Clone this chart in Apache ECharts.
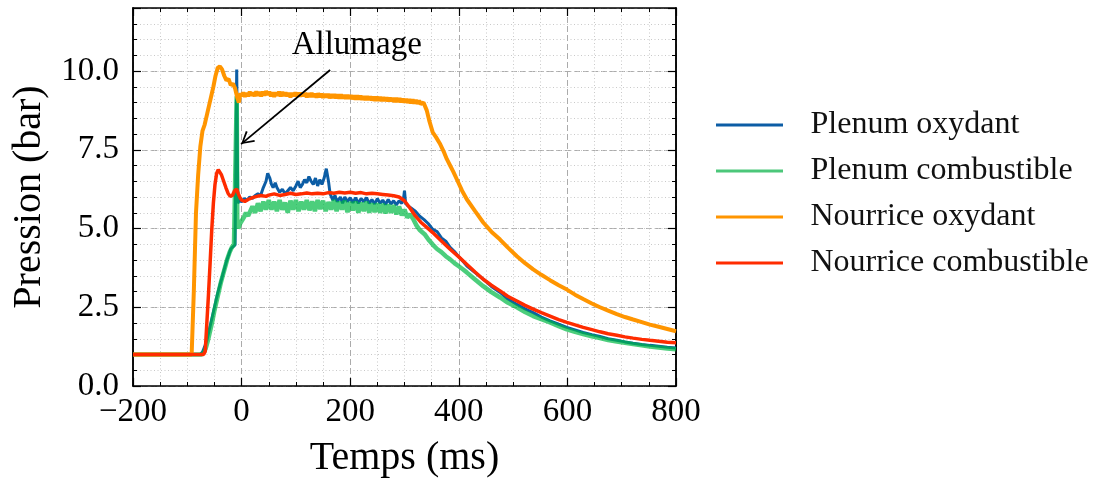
<!DOCTYPE html>
<html>
<head>
<meta charset="utf-8">
<script src="https://cdn.jsdelivr.net/npm/echarts@6/dist/echarts.min.js"></script>
<style>html,body{margin:0;padding:0;background:#fff}#c{width:1118px;height:479px}</style>
</head>
<body>
<div id="c"></div>
<script>
const seriesNames = ['Plenum oxydant', 'Plenum combustible', 'Nourrice oxydant', 'Nourrice combustible'];
const xTicks = [-200, 0, 200, 400, 600, 800];
const yTicks = [0.0, 2.5, 5.0, 7.5, 10.0];
const annotationText = 'Allumage';

// [time (ms), pressure (bar)]
const plenumOxydant = [[-200,1.0],[-76,1.0],[-72,1.08],[-68,1.25],[-64,1.45],[-60,1.75],[-56,2.05],[-52,2.35],[-48,2.65],[-44,2.95],[-40,3.2],[-36,3.45],[-32,3.7],[-28,3.95],[-24,4.15],[-20,4.35],[-16,4.42],[-12,4.48],[-10,4.5],[-9,10.05],[-7,5.8],[-4,5.9],[0,5.85],[5,5.95],[10,5.9],[15,6.0],[20,5.95],[25,6.05],[30,6.1],[35,6.05],[40,6.3],[45,6.5],[48,6.75],[52,6.6],[55,6.4],[58,6.3],[62,6.45],[65,6.3],[70,6.15],[75,6.25],[80,6.1],[85,6.2],[90,6.3],[95,6.2],[100,6.35],[104,6.5],[108,6.3],[112,6.4],[116,6.55],[120,6.45],[124,6.65],[128,6.5],[132,6.4],[136,6.6],[140,6.35],[144,6.55],[148,6.4],[152,6.6],[156,6.9],[160,6.5],[163,6.1],[168,5.9],[172,6.05],[176,5.85],[182,6.0],[186,5.8],[190,6.0],[195,5.85],[200,5.98],[205,5.82],[210,5.98],[215,5.8],[220,5.95],[225,5.85],[230,5.98],[235,5.8],[240,5.92],[245,5.78],[250,5.95],[255,5.8],[260,5.9],[265,5.76],[270,5.92],[275,5.78],[280,5.88],[285,5.75],[290,5.88],[295,5.8],[298,5.92],[300,6.2],[302,5.8],[306,5.72],[312,5.65],[320,5.55],[328,5.39],[336,5.28],[344,5.15],[352,4.97],[360,4.9],[368,4.7],[376,4.6],[384,4.4],[392,4.27],[400,4.1],[408,3.95],[415,3.81],[430,3.6],[445,3.39],[460,3.16],[476,2.97],[490,2.77],[507,2.59],[522,2.45],[537,2.33],[552,2.19],[568,2.07],[584,1.96],[599,1.86],[614,1.78],[629,1.7],[645,1.63],[660,1.57],[675,1.5],[691,1.45],[706,1.4],[721,1.36],[737,1.32],[752,1.29],[768,1.26],[784,1.23],[800,1.21]];

const plenumCombustible = [[-200,1.0],[-74,1.0],[-70,1.05],[-66,1.2],[-62,1.45],[-58,1.75],[-54,2.05],[-50,2.4],[-46,2.7],[-42,3.0],[-38,3.3],[-34,3.55],[-30,3.8],[-26,4.05],[-22,4.25],[-18,4.4],[-14,4.5],[-11,4.55],[-9,9.2],[-8,5.3],[-6,5.0],[-3,5.15],[0,5.2],[4,5.35],[8,5.5],[12,5.4],[15,5.45],[20,5.7],[25,5.5],[30,5.8],[35,5.55],[40,5.85],[45,5.6],[50,5.9],[55,5.6],[60,5.85],[65,5.55],[70,5.9],[75,5.6],[80,5.82],[85,5.5],[90,5.88],[95,5.6],[100,5.9],[105,5.55],[110,5.85],[115,5.6],[120,5.9],[125,5.58],[130,5.86],[135,5.55],[140,5.9],[145,5.62],[150,5.88],[155,5.55],[160,5.84],[165,5.6],[170,5.9],[175,5.55],[180,5.85],[185,5.6],[190,5.88],[195,5.52],[200,5.84],[205,5.58],[210,5.86],[215,5.5],[220,5.82],[225,5.55],[230,5.85],[235,5.5],[240,5.8],[245,5.52],[250,5.8],[255,5.5],[260,5.78],[265,5.48],[270,5.76],[275,5.5],[280,5.74],[285,5.45],[290,5.7],[295,5.42],[300,5.6],[305,5.35],[310,5.45],[316,5.3],[322,5.1],[328,4.95],[337,4.82],[344,4.65],[352,4.49],[360,4.35],[368,4.25],[376,4.12],[384,4.02],[392,3.9],[400,3.8],[408,3.7],[415,3.6],[430,3.38],[445,3.17],[460,2.98],[476,2.81],[490,2.65],[507,2.5],[522,2.35],[537,2.22],[552,2.12],[568,2.02],[584,1.9],[599,1.8],[614,1.72],[629,1.65],[645,1.58],[660,1.52],[675,1.46],[691,1.41],[706,1.37],[721,1.33],[737,1.29],[752,1.25],[768,1.22],[784,1.19],[800,1.17]];

const nourriceOxydant = [[-200,1.0],[-92,1.0],[-88,3.0],[-84,5.5],[-80,6.7],[-76,7.6],[-72,8.1],[-68,8.3],[-64,8.6],[-60,8.9],[-56,9.2],[-52,9.5],[-48,9.85],[-44,10.1],[-40,10.15],[-36,10.05],[-32,9.85],[-28,9.7],[-24,9.75],[-20,9.55],[-16,9.6],[-12,9.45],[-8,9.15],[-5,9.0],[-2,9.3],[0,9.2],[3,9.32],[6,9.18],[9,9.3],[12,9.2],[15,9.34],[18,9.22],[21,9.32],[24,9.2],[27,9.35],[30,9.22],[33,9.33],[36,9.2],[39,9.34],[42,9.22],[45,9.36],[48,9.24],[51,9.34],[54,9.2],[57,9.32],[60,9.18],[63,9.32],[66,9.22],[69,9.34],[72,9.2],[75,9.33],[78,9.21],[81,9.32],[84,9.2],[87,9.3],[90,9.17],[93,9.3],[96,9.2],[99,9.32],[102,9.2],[105,9.31],[108,9.19],[111,9.31],[114,9.2],[117,9.3],[120,9.17],[123,9.29],[126,9.18],[129,9.3],[132,9.18],[135,9.28],[138,9.16],[141,9.29],[144,9.17],[147,9.28],[150,9.15],[153,9.27],[156,9.16],[159,9.27],[162,9.14],[165,9.26],[168,9.15],[171,9.26],[174,9.14],[177,9.25],[180,9.13],[183,9.25],[186,9.13],[189,9.24],[192,9.12],[195,9.24],[198,9.12],[201,9.23],[204,9.11],[207,9.22],[210,9.1],[213,9.22],[216,9.1],[219,9.21],[222,9.09],[225,9.2],[228,9.08],[231,9.2],[234,9.08],[237,9.19],[240,9.07],[243,9.18],[246,9.06],[249,9.18],[252,9.06],[255,9.17],[258,9.05],[261,9.16],[264,9.05],[267,9.16],[270,9.04],[273,9.15],[276,9.04],[279,9.14],[282,9.02],[285,9.14],[288,9.02],[291,9.13],[294,9.01],[297,9.12],[300,9.0],[303,9.11],[306,8.99],[309,9.1],[312,8.98],[315,9.09],[318,8.97],[321,9.08],[324,8.96],[327,9.06],[330,8.95],[335,9.0],[341,8.75],[346,8.4],[352,8.05],[358,7.9],[365,7.7],[372,7.45],[378,7.2],[384,7.0],[390,6.8],[398,6.5],[406,6.2],[415,5.92],[430,5.55],[445,5.19],[460,4.9],[476,4.65],[490,4.4],[507,4.12],[522,3.9],[537,3.7],[552,3.53],[568,3.36],[584,3.2],[599,3.06],[614,2.9],[629,2.76],[645,2.62],[660,2.5],[675,2.39],[691,2.28],[706,2.19],[721,2.11],[737,2.03],[752,1.95],[768,1.88],[784,1.81],[800,1.74]];

const nourriceCombustible = [[-200,1.0],[-70,1.0],[-67,1.1],[-64,2.0],[-61,2.9],[-58,3.9],[-55,4.95],[-52,5.8],[-49,6.4],[-46,6.75],[-43,6.87],[-40,6.82],[-37,6.7],[-33,6.5],[-29,6.3],[-25,6.12],[-21,6.02],[-17,6.05],[-13,6.2],[-9,6.25],[-6,6.1],[-3,5.98],[0,5.9],[6,5.86],[12,5.92],[20,5.98],[28,6.02],[36,6.05],[45,6.02],[50,6.06],[60,6.1],[70,6.05],[80,6.08],[90,6.12],[100,6.08],[110,6.1],[120,6.13],[130,6.1],[140,6.12],[150,6.1],[160,6.14],[170,6.12],[180,6.15],[190,6.13],[200,6.15],[210,6.12],[220,6.14],[230,6.1],[240,6.12],[250,6.1],[260,6.08],[270,6.06],[280,6.04],[290,6.0],[300,5.88],[310,5.65],[320,5.4],[330,5.2],[340,5.05],[352,4.87],[368,4.6],[384,4.34],[400,4.1],[415,3.86],[430,3.62],[445,3.39],[460,3.2],[476,3.02],[490,2.85],[507,2.7],[522,2.56],[537,2.44],[552,2.33],[568,2.22],[584,2.11],[599,2.02],[614,1.94],[629,1.86],[645,1.79],[660,1.72],[675,1.66],[691,1.61],[706,1.56],[721,1.52],[737,1.48],[752,1.45],[768,1.42],[784,1.39],[800,1.37]];

// annotation anchor points in data coordinates
const arrowStart = [163, 10.03];
const arrowTip = [-1, 7.68];
const labelPos = [212, 10.83];

const FONT = "'Liberation Serif', 'DejaVu Serif', serif";
const BLACK = '#000';
const chevron = 'path://M6,-11 L6,-11 M0,10 L6,0 L12,10 L10.6,10.8 L6,2.6 L1.4,10.8 Z';
const legendIcon = 'path://M0,0 L67,0 L67,3 L0,3 Z';

const chart = echarts.init(document.getElementById('c'), null, {renderer: 'canvas'});

function axisLineStyle() { return {show: true, onZero: false, lineStyle: {color: BLACK, width: 1.5}}; }

const majorSplit = {show: true, lineStyle: {color: '#ababab', width: 1, type: [6, 3]}};
const minorSplit = {show: true, lineStyle: {color: '#c9c9c9', width: 1, type: [1, 2.5]}};

const option = {
  animation: false,
  backgroundColor: '#fff',
  grid: {left: 133, right: 442, top: 8, bottom: 93, containLabel: false, outerBoundsMode: 'none'},
  legend: {
    orient: 'vertical', left: 716, top: 109, padding: 0,
    data: seriesNames.map(n => ({name: n, icon: legendIcon})),
    itemWidth: 68, itemHeight: 3, itemGap: 14,
    textStyle: {fontFamily: FONT, fontSize: 32, color: '#111', lineHeight: 32, padding: [0, 0, 0, 22]}
  },
  xAxis: [
    {
      type: 'value', min: -200, max: 800, interval: 200, position: 'bottom',
      name: 'Temps (ms)', nameLocation: 'middle', nameGap: 52,
      nameTextStyle: {fontFamily: FONT, fontSize: 40, color: BLACK},
      axisLine: axisLineStyle(),
      axisTick: {show: true, inside: true, length: 8, lineStyle: {color: BLACK, width: 1.2}},
      minorTick: {show: true, splitNumber: 4, length: 4, lineStyle: {color: BLACK, width: 1}},
      axisLabel: {fontFamily: FONT, fontSize: 33, color: BLACK, margin: 10,
        formatter: v => (xTicks.indexOf(v) >= 0 ? (v < 0 ? '\u2212' + (-v) : String(v)) : '')},
      splitLine: majorSplit,
      minorSplitLine: minorSplit
    },
    {
      type: 'value', min: -200, max: 800, interval: 200, position: 'top',
      axisLine: axisLineStyle(),
      axisTick: {show: true, inside: true, length: 8, lineStyle: {color: BLACK, width: 1.2}},
      minorTick: {show: true, splitNumber: 4, length: 4, lineStyle: {color: BLACK, width: 1}},
      axisLabel: {show: false}, splitLine: {show: false}
    }
  ],
  yAxis: [
    {
      type: 'value', min: 0, max: 12, interval: 2.5, position: 'left',
      name: 'Pression (bar)', nameLocation: 'middle', nameGap: 84,
      nameTextStyle: {fontFamily: FONT, fontSize: 40, color: BLACK},
      axisLine: axisLineStyle(),
      axisTick: {show: true, inside: true, length: 8, lineStyle: {color: BLACK, width: 1.2}},
      axisLabel: {fontFamily: FONT, fontSize: 33, color: BLACK, margin: 14,
        formatter: v => { const t = yTicks.find(k => Math.abs(k - v) < 1e-6); return t === undefined ? '' : t.toFixed(1); }},
      splitLine: majorSplit
    },
    {
      type: 'value', min: 0, max: 12, interval: 0.5, position: 'left',
      axisLine: axisLineStyle(),
      axisTick: {show: true, inside: true, length: 4, lineStyle: {color: BLACK, width: 1}},
      axisLabel: {show: false},
      splitLine: minorSplit
    },
    {
      type: 'value', min: 0, max: 12, interval: 2.5, position: 'right',
      axisLine: axisLineStyle(),
      axisTick: {show: true, inside: true, length: 8, lineStyle: {color: BLACK, width: 1.2}},
      axisLabel: {show: false}, splitLine: {show: false}
    },
    {
      type: 'value', min: 0, max: 12, interval: 0.5, position: 'right',
      axisLine: axisLineStyle(),
      axisTick: {show: true, inside: true, length: 4, lineStyle: {color: BLACK, width: 1}},
      axisLabel: {show: false}, splitLine: {show: false}
    }
  ],
  series: [
    {name: seriesNames[0], type: 'line', data: plenumOxydant, symbol: 'none', smooth: false,
     lineStyle: {color: '#0C5DA5', width: 3}, itemStyle: {color: '#0C5DA5'}, z: 2},
    {name: seriesNames[1], type: 'line', data: plenumCombustible, symbol: 'none',
     lineStyle: {color: '#00B945', width: 4.5, opacity: 0.7}, itemStyle: {color: '#4cc77a'}, z: 3},
    {name: seriesNames[2], type: 'line', data: nourriceOxydant, symbol: 'none',
     lineStyle: {color: '#FF9500', width: 4}, itemStyle: {color: '#FF9500'}, z: 4},
    {name: seriesNames[3], type: 'line', data: nourriceCombustible, symbol: 'none',
     lineStyle: {color: '#FF2C00', width: 3.5}, itemStyle: {color: '#FF2C00'}, z: 5,
     markLine: {
       silent: true, animation: false,
       symbol: ['none', chevron], symbolSize: [14, 26],
       lineStyle: {color: BLACK, width: 1.8, type: 'solid'},
       itemStyle: {color: BLACK},
       label: {show: false},
       emphasis: {disabled: true},
       data: [[{coord: arrowStart, lineStyle: {color: BLACK}, itemStyle: {color: BLACK}}, {coord: arrowTip}]]
     },
     markPoint: {
       silent: true, animation: false,
       symbol: 'rect', symbolSize: 1, itemStyle: {color: 'rgba(0,0,0,0)'},
       label: {show: true, position: 'inside', formatter: annotationText, fontFamily: FONT, fontSize: 33, color: BLACK},
       data: [{coord: labelPos}]
     }
    }
  ]
};
chart.setOption(option);
</script>
</body>
</html>
